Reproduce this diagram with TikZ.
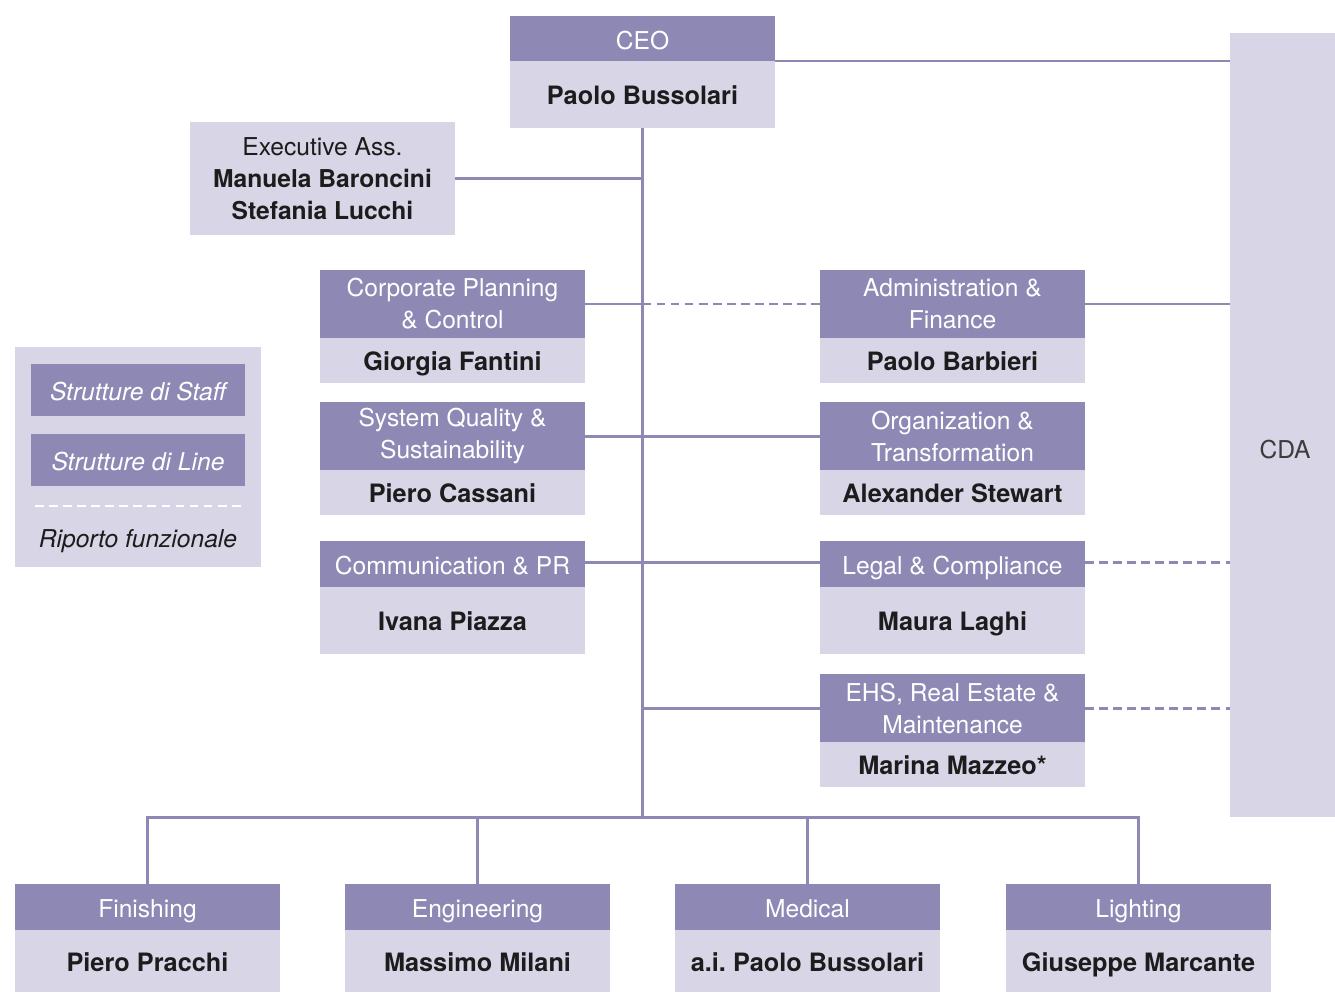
\documentclass[tikz,border=0pt]{standalone}
\usepackage{fontspec}
\setmainfont{TeX Gyre Heros}
\usetikzlibrary{positioning}
\definecolor{orgdark}{RGB}{142,136,181}
\definecolor{orglight}{RGB}{216,213,230}
\definecolor{orgtext}{RGB}{28,28,28}
\definecolor{orggray}{RGB}{60,60,60}
\frenchspacing

\begin{document}
\begin{tikzpicture}[
    x=0.02cm, y=-0.02cm,
    box/.style={minimum width=5.3cm, minimum height=0.9cm, inner sep=0pt, outer sep=0pt, align=center},
    head/.style={box, fill=orgdark, text=white, font=\fontsize{14}{18}\selectfont, text height=13.5pt, text depth=1pt},
    tallhead/.style={box, fill=orgdark, text=white, font=\fontsize{14}{18.2}\selectfont, minimum height=1.36cm},
    body/.style={box, fill=orglight, text=orgtext, font=\fontsize{14.4}{18}\selectfont\bfseries, text height=12.5pt, text depth=1pt},
    tallbody/.style={body, minimum height=1.34cm},
    legbox/.style={fill=orgdark, text=white, minimum width=4.28cm, minimum height=1.04cm, inner sep=0pt, font=\fontsize{14}{18}\selectfont\itshape, text height=13pt, text depth=1pt},
    link/.style={draw=orgdark, line width=1.7pt},
    func/.style={link, dash pattern=on 5pt off 3pt},
    node distance=0pt
]
\useasboundingbox (0,0) rectangle (1335,992);

% CEO and board
\node[head, anchor=north] (ceo) at (642.5,16) {CEO};
\node[tallbody, below=of ceo] (ceoname) {Paolo Bussolari};
\node[fill=orglight, minimum width=2.1cm, minimum height=15.68cm, inner sep=0pt] (cda) at (1282.5,425) {};
\node[text=orggray, font=\fontsize{14}{18}\selectfont] (cdatext) at (1285,450) {CDA};

% Executive assistants
\node[box, fill=orglight, text=orgtext, minimum height=2.26cm, font=\fontsize{14}{18.4}\selectfont] (exec) at (322.5,178.5)
    {Executive Ass.\\ \textbf{Manuela Baroncini}\\ \textbf{Stefania Lucchi}};

% Staff, left column
\node[tallhead, anchor=north] (cpc) at (452.5,270) {Corporate Planning\\ \& Control};
\node[body, below=of cpc] (cpcname) {Giorgia Fantini};
\node[tallhead, anchor=north] (sqs) at (452.5,402) {System Quality \&\\ Sustainability};
\node[body, below=of sqs] (sqsname) {Piero Cassani};
\node[head, anchor=north, minimum height=0.92cm] (comm) at (452.5,541) {Communication \& PR};
\node[tallbody, below=of comm] (commname) {Ivana Piazza};

% Staff, right column
\node[tallhead, anchor=north] (afin) at (952.5,270) {Administration \&\\ Finance};
\node[body, below=of afin] (afinname) {Paolo Barbieri};
\node[tallhead, anchor=north] (orgt) at (952.5,402) {Organization \&\\ Transformation};
\node[body, below=of orgt] (orgtname) {Alexander Stewart};
\node[head, anchor=north, minimum height=0.92cm] (legal) at (952.5,541) {Legal \& Compliance};
\node[tallbody, below=of legal] (legalname) {Maura Laghi};
\node[tallhead, anchor=north] (ehs) at (952.5,674) {EHS, Real Estate \&\\ Maintenance};
\node[body, below=of ehs] (ehsname) {Marina Mazzeo*};

% Line units
\node[head, anchor=north, minimum height=0.92cm] (fin) at (147.5,884) {Finishing};
\node[body, below=of fin, minimum height=1.24cm] (finname) {Piero Pracchi};
\node[head, anchor=north, minimum height=0.92cm] (eng) at (477.5,884) {Engineering};
\node[body, below=of eng, minimum height=1.24cm] (engname) {Massimo Milani};
\node[head, anchor=north, minimum height=0.92cm] (med) at (807.5,884) {Medical};
\node[body, below=of med, minimum height=1.24cm] (medname) {a.i. Paolo Bussolari};
\node[head, anchor=north, minimum height=0.92cm] (light) at (1138.5,884) {Lighting};
\node[body, below=of light, minimum height=1.24cm] (lightname) {Giuseppe Marcante};

% Legend
\node[fill=orglight, minimum width=4.92cm, minimum height=4.4cm, inner sep=0pt] (legend) at (138,457) {};
\node[legbox] (legstaff) at (138,390) {Strutture di Staff};
\node[legbox] (legline) at (138,460) {Strutture di Line};
\node[text=orgtext, font=\fontsize{14}{18}\selectfont\itshape, text height=13pt, text depth=1pt] (legfunc) at (138,537) {Riporto funzionale};
\draw[func, draw=white, line width=1.4pt] (35,506) -- (241,506);

% Connectors
\coordinate (bus) at (642.5,817);
\draw[link] (ceo.south east) -- (ceo.south east -| cda.west);
\draw[link] (ceoname.south) -- (bus);
\draw[link] (exec.east) -- (exec.east -| ceoname.south);
\draw[link] (cpc.east) -- (cpc.east -| ceoname.south);
\draw[func] (cpc.east -| ceoname.south) -- (afin.west);
\draw[link] (afin.east) -- (afin.east -| cda.west);
\draw[link] (sqs.east) -- (orgt.west);
\draw[link] ([yshift=1pt]comm.east) -- ([yshift=1pt]legal.west);
\draw[func] ([yshift=1pt]legal.east) -- ([yshift=1pt]legal.east -| cda.west);
\draw[link] (ehs.west -| ceoname.south) -- (ehs.west);
\draw[func] (ehs.east) -- (ehs.east -| cda.west);
\draw[link] (fin.north) -- (fin.north |- bus) -- (light.north |- bus) -- (light.north);
\draw[link] (eng.north) -- (eng.north |- bus);
\draw[link] (med.north) -- (med.north |- bus);
\end{tikzpicture}
\end{document}
